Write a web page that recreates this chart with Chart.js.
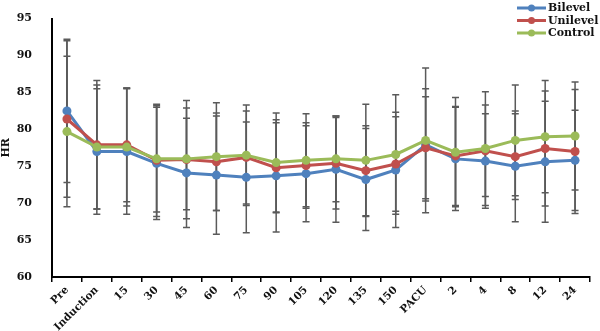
<!DOCTYPE html>
<html>
<head>
<meta charset="utf-8">
<script src="https://cdn.jsdelivr.net/npm/chart.js@4.4.1/dist/chart.umd.min.js"></script>
<style>
  body { margin: 0; background: #fff; }
  #wrap { width: 600px; height: 331px; position: relative; }
</style>
</head>
<body>
<div id="wrap"><canvas id="hrChart"></canvas></div>
<script>
const labels = ['Pre', 'Induction', '15', '30', '45', '60', '75', '90', '105', '120', '135', '150', 'PACU', '2', '4', '8', '12', '24'];

const bilevel = [82.5, 77.0, 77.0, 75.4, 74.1, 73.8, 73.5, 73.7, 74.0, 74.6, 73.2, 74.5, 77.9, 76.0, 75.7, 75.0, 75.6, 75.8];
const unilevel = [81.4, 77.9, 77.9, 75.8, 75.9, 75.6, 76.2, 74.8, 75.1, 75.4, 74.4, 75.3, 77.5, 76.4, 77.1, 76.3, 77.4, 77.0];
const control = [79.7, 77.6, 77.6, 76.0, 76.0, 76.3, 76.5, 75.5, 75.8, 76.0, 75.8, 76.6, 78.5, 76.9, 77.4, 78.5, 79.0, 79.1];

// standard deviations (error bars)
const bilevelSd = [9.7, 8.5, 8.5, 7.6, 7.4, 8.0, 7.5, 7.6, 6.5, 7.2, 6.9, 7.8, 7.6, 7.0, 6.4, 7.5, 8.2, 6.8];
const unilevelSd = [10.6, 8.7, 7.7, 7.6, 8.0, 6.6, 6.3, 6.1, 5.8, 6.2, 6.1, 6.4, 6.9, 6.7, 6.2, 5.8, 7.8, 8.4];
const controlSd = [10.2, 8.4, 8.0, 7.2, 6.9, 7.3, 6.8, 6.7, 6.3, 5.8, 7.6, 8.1, 9.8, 7.4, 7.7, 7.5, 7.6, 7.3];

const yTicks = [60, 65, 70, 75, 80, 85, 90, 95];

const FONT = "'DejaVu Serif', serif";

const errorBars = {
  id: 'errorBars',
  beforeDatasetsDraw(chart) {
    const ctx = chart.ctx;
    const y = chart.scales.y;
    ctx.save();
    ctx.strokeStyle = '#5a5a5a';
    ctx.lineWidth = 1.5;
    chart.data.datasets.forEach((ds, i) => {
      const meta = chart.getDatasetMeta(i);
      meta.data.forEach((pt, j) => {
        const top = y.getPixelForValue(ds.data[j] + ds.sd[j]);
        const bot = y.getPixelForValue(ds.data[j] - ds.sd[j]);
        ctx.beginPath();
        ctx.moveTo(pt.x, top);
        ctx.lineTo(pt.x, bot);
        ctx.moveTo(pt.x - 3.5, top);
        ctx.lineTo(pt.x + 3.5, top);
        ctx.moveTo(pt.x - 3.5, bot);
        ctx.lineTo(pt.x + 3.5, bot);
        ctx.stroke();
      });
    });
    ctx.restore();
  }
};

// legend drawn Excel style: line with a dot in the middle
const sideLegend = {
  id: 'sideLegend',
  afterDraw(chart) {
    const ctx = chart.ctx;
    ctx.save();
    ctx.font = "bold 11px " + FONT;
    ctx.textBaseline = 'middle';
    ctx.textAlign = 'left';
    chart.data.datasets.forEach((ds, i) => {
      const yy = 8 + i * 12.5;
      ctx.strokeStyle = ds.borderColor;
      ctx.lineWidth = 3;
      ctx.beginPath();
      ctx.moveTo(517, yy);
      ctx.lineTo(546, yy);
      ctx.stroke();
      ctx.fillStyle = ds.borderColor;
      ctx.beginPath();
      ctx.arc(531.5, yy, 3.5, 0, Math.PI * 2);
      ctx.fill();
      ctx.fillStyle = '#111';
      ctx.fillText(ds.label, 548, yy + 0.5);
    });
    ctx.restore();
  }
};

new Chart(document.getElementById('hrChart'), {
  type: 'line',
  data: {
    labels: labels,
    datasets: [
      { label: 'Bilevel', data: bilevel, sd: bilevelSd, borderColor: '#4F81BD', backgroundColor: '#4F81BD', order: 2 },
      { label: 'Unilevel', data: unilevel, sd: unilevelSd, borderColor: '#C0504D', backgroundColor: '#C0504D', order: 1 },
      { label: 'Control', data: control, sd: controlSd, borderColor: '#9BBB59', backgroundColor: '#9BBB59', order: 0 }
    ]
  },
  options: {
    responsive: true,
    maintainAspectRatio: false,
    animation: false,
    layout: { padding: { top: 13, right: 10, left: 0, bottom: 0 } },
    elements: {
      line: { borderWidth: 3, tension: 0 },
      point: { radius: 4.5, hoverRadius: 4.5, borderWidth: 0 }
    },
    plugins: {
      legend: { display: false },
      tooltip: { enabled: false }
    },
    scales: {
      x: {
        type: 'category',
        offset: true,
        border: { display: true, color: '#000', width: 2 },
        grid: { display: true, drawOnChartArea: false, drawTicks: true, tickLength: 5, color: '#000', lineWidth: 1.5, offset: true },
        ticks: {
          autoSkip: false,
          minRotation: 45,
          maxRotation: 45,
          padding: 2,
          color: '#111',
          font: { family: FONT, size: 10.5, weight: 'bold' }
        },
        afterFit(scale) { scale.height = 54; }
      },
      y: {
        min: 60,
        max: 95,
        border: { display: true, color: '#000', width: 2 },
        grid: { display: false },
        afterBuildTicks(scale) { scale.ticks = yTicks.map(v => ({ value: v })); },
        ticks: {
          padding: 12,
          color: '#111',
          font: { family: FONT, size: 11, weight: 'bold' }
        },
        title: {
          display: true,
          text: 'HR',
          color: '#111',
          padding: 0,
          font: { family: FONT, size: 11, weight: 'bold' }
        },
        afterFit(scale) { scale.width = 52; }
      }
    }
  },
  plugins: [errorBars, sideLegend]
});
</script>
</body>
</html>
